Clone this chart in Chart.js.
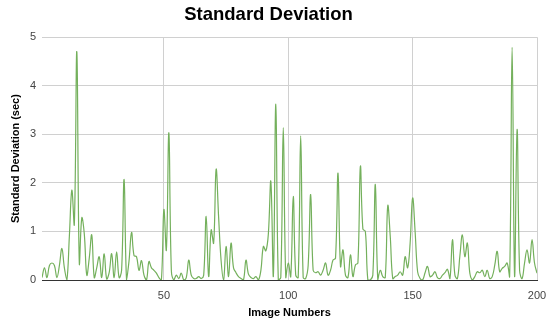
<!DOCTYPE html>
<html>
<head>
<meta charset="utf-8">
<script src="https://cdn.jsdelivr.net/npm/chart.js@4/dist/chart.umd.min.js"></script>
<style>
html,body{margin:0;padding:0;background:#fff;}
#wrap{width:550px;height:325px;}
</style>
</head>
<body>
<div id="wrap"><canvas id="c" width="550" height="325"></canvas></div>
<script>
const chartTitle = "Standard Deviation";
const xTitle = "Image Numbers";
const yTitle = "Standard Deviation (sec)";
const xTicks = [50, 100, 150, 200];
const yTicks = [0, 1, 2, 3, 4, 5];
const stdDev = [
 0.05,0.25,0.05,0.3,0.35,0.3,0.05,0.3,0.65,0.25,
 0.0,0.9,1.85,1.15,4.7,0.35,1.28,0.95,0.1,0.45,
 0.93,0.05,0.25,0.48,0.05,0.54,0.02,0.15,0.54,0.05,
 0.58,0.05,0.2,2.07,0.0,0.4,0.98,0.5,0.48,0.2,
 0.4,0.1,0.0,0.38,0.25,0.2,0.14,0.05,0.0,1.45,
 0.62,3.03,0.2,0.0,0.1,0.03,0.14,0.0,0.05,0.41,
 0.1,0.03,0.03,0.07,0.03,0.1,1.31,0.07,1.03,0.76,
 2.28,1.3,0.4,0.0,0.69,0.07,0.76,0.25,0.15,0.07,
 0.03,0.0,0.41,0.12,0.05,0.03,0.07,0.0,0.2,0.69,
 0.6,0.95,2.03,0.07,3.62,0.0,0.05,3.14,0.05,0.35,
 0.07,1.72,0.1,0.05,2.97,0.05,0.03,0.3,1.76,0.2,
 0.15,0.17,0.1,0.2,0.35,0.1,0.2,0.41,0.45,2.2,
 0.28,0.62,0.1,0.05,0.52,0.07,0.31,0.35,2.34,1.05,
 1.0,0.0,0.0,0.1,1.97,0.0,0.2,0.07,0.05,1.53,
 0.9,0.03,0.07,0.1,0.17,0.1,0.48,0.25,0.76,1.69,
 1.0,0.17,0.03,0.0,0.15,0.28,0.07,0.1,0.17,0.05,
 0.03,0.1,0.15,0.22,0.03,0.83,0.1,0.03,0.5,0.93,
 0.48,0.76,0.14,0.0,0.07,0.17,0.15,0.2,0.07,0.2,
 0.03,0.07,0.3,0.59,0.17,0.24,0.28,0.35,0.07,4.79,
 0.07,3.1,0.2,0.03,0.35,0.62,0.35,0.83,0.35,0.14
];
const imageNumbers = stdDev.map((_, i) => i + 1);

const FONT = "'Liberation Sans', Arial, sans-serif";

new Chart(document.getElementById('c'), {
  type: 'line',
  data: {
    labels: imageNumbers,
    datasets: [{
      label: yTitle,
      data: imageNumbers.map((n, i) => ({x: n, y: stdDev[i]})),
      borderColor: '#74b05c',
      borderWidth: 1.2,
      pointRadius: 0,
      fill: false,
      tension: 0.4
    }]
  },
  options: {
    responsive: false,
    animation: false,
    devicePixelRatio: 1,
    layout: {padding: {left: 0, right: 13, top: 0, bottom: 0}},
    plugins: {
      legend: {display: false},
      tooltip: {enabled: false},
      title: {
        display: true,
        text: chartTitle,
        color: '#000',
        font: {family: FONT, size: 18.5, weight: 'bold'},
        padding: {top: 4, bottom: 11}
      }
    },
    scales: {
      x: {
        type: 'linear',
        min: 1,
        max: 200,
        afterBuildTicks: s => { s.ticks = xTicks.map(v => ({value: v})); },
        afterFit: s => { s.height = 45; s.paddingRight = 0; s.paddingLeft = 0; },
        ticks: {color: '#444', font: {family: FONT, size: 11}, padding: 9, maxRotation: 0},
        grid: {color: '#d0d0d0', drawTicks: false, lineWidth: 1},
        border: {display: true, color: '#333', width: 1},
        title: {display: true, text: xTitle, color: '#000', font: {family: FONT, size: 11, weight: 'bold'}, padding: {top: 4, bottom: 5}}
      },
      y: {
        min: 0,
        max: 5,
        afterBuildTicks: s => { s.ticks = yTicks.map(v => ({value: v})); },
        afterFit: s => { s.width = 42; },
        ticks: {color: '#444', font: {family: FONT, size: 11}, padding: 6},
        grid: {color: c => c.tick && c.tick.value === 0 ? '#333' : '#d0d0d0', drawTicks: false},
        border: {display: false},
        title: {display: true, text: yTitle, color: '#000', font: {family: FONT, size: 11, weight: 'bold'}, padding: {top: 9, bottom: 4}}
      }
    }
  }
});
</script>
</body>
</html>
